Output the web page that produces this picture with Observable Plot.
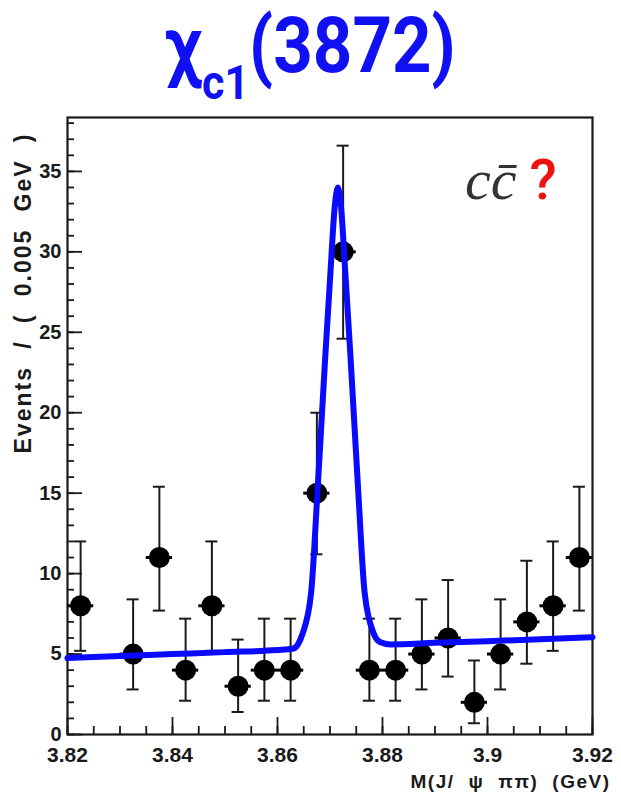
<!DOCTYPE html>
<html>
<head>
<meta charset="utf-8">
<script src="https://cdn.jsdelivr.net/npm/d3@7"></script>
<script src="https://cdn.jsdelivr.net/npm/@observablehq/plot@0.6"></script>
<style>
  html, body { margin: 0; padding: 0; background: #fff; }
  body { width: 621px; height: 799px; overflow: hidden; position: relative; }
  #title { position: relative; width: 621px; height: 105px; }
  #title .t {
    position: absolute; left: 0; top: 6px; width: 621px; text-align: center;
    font-family: Roboto, "Noto Sans", sans-serif; font-weight: 700; font-size: 69px;
    color: #1010f2; line-height: 1; white-space: nowrap;
    transform: scaleY(1.14); transform-origin: 50% 0;
  }
  #title .t .sub { font-size: 43px; position: relative; top: 24px; }
  #chart svg { display: block; }
</style>
</head>
<body>
<div id="title"><div class="t">χ<span class="sub">c1</span>(3872)</div></div>
<div id="chart"></div>
<script>
// ---- data ----
const binCenters = [3.8225, 3.8325, 3.8375, 3.8425, 3.8475, 3.8525, 3.8575, 3.8625, 3.8675, 3.8725,
                    3.8775, 3.8825, 3.8875, 3.8925, 3.8975, 3.9025, 3.9075, 3.9125, 3.9175];
const counts     = [8, 5, 11, 4, 8, 3, 4, 4, 15, 30, 4, 4, 5, 6, 2, 5, 7, 8, 11];
const errLow     = [5.2, 2.8, 7.7, 2.1, 5.2, 1.4, 2.1, 2.1, 11.2, 24.6, 2.1, 2.1, 2.8, 3.6, 0.7, 2.8, 4.4, 5.2, 7.7];
const errHigh    = [12.0, 8.4, 15.4, 7.2, 12.0, 5.9, 7.2, 7.2, 20.0, 36.6, 7.2, 7.2, 8.4, 9.6, 4.6, 8.4, 10.8, 12.0, 15.4];

const fitMass   = [3.82, 3.83, 3.84, 3.85, 3.86, 3.8629, 3.8638, 3.8647, 3.8664, 3.8676, 3.8691, 3.8701, 3.8709,
                   3.8715, 3.8721, 3.8729, 3.8739, 3.8754, 3.8766, 3.8783, 3.8795, 3.8815, 3.89, 3.90, 3.91, 3.92];
const fitEvents = [4.75, 4.88, 5.0, 5.12, 5.25, 5.33, 5.55, 6.2, 8.8, 15.0, 23.5, 28.8, 32.8,
                   34.0, 32.8, 28.8, 23.5, 15.0, 8.8, 6.3, 5.75, 5.6, 5.7, 5.8, 5.92, 6.05];

const xTicks = [3.82, 3.84, 3.86, 3.88, 3.9, 3.92];
const xTickLabels = ["3.82", "3.84", "3.86", "3.88", "3.9", "3.92"];
const yTicks = [0, 5, 10, 15, 20, 25, 30, 35];
const xLabel = "M(J/ ψ ππ) (GeV)";
const yLabel = "Events / ( 0.005 GeV )";
const noteText = "cc\u0304";
const noteMark = "?";

// ---- derived ----
const binWidth = 0.005;
const points = binCenters.map((x, i) => ({x, n: counts[i], lo: errLow[i], hi: errHigh[i]}));
const fit = fitMass.map((x, i) => ({x, y: fitEvents[i]}));
const xMinor = d3.range(0, 21).map(i => +(3.82 + i * binWidth).toFixed(4));
const yMinor = d3.range(0, 39);
const capHalf = 0.00115;
const ink = "#1a1a1a";

const chart = Plot.plot({
  width: 621,
  height: 694,
  marginTop: 12,
  marginBottom: 65,
  marginLeft: 67,
  marginRight: 29,
  style: {fontFamily: "'Liberation Sans', Arial, sans-serif", fontWeight: "bold", color: "#000", background: "#fff"},
  x: {domain: [3.82, 3.92]},
  y: {domain: [0, 38.35]},
  marks: [
    // minor ticks
    Plot.axisY({ticks: yMinor, tickSize: -7, tickFormat: () => "", label: null, strokeWidth: 1.8, stroke: ink}),
    Plot.axisX({ticks: xMinor, tickSize: -8, tickFormat: () => "", label: null, strokeWidth: 1.8, stroke: ink}),
    // major ticks + labels
    Plot.axisY({ticks: yTicks, tickSize: -15, tickPadding: 21, tickFormat: d => String(d), label: null,
                fontSize: 20, fontWeight: "bold", strokeWidth: 1.8, stroke: ink, fill: ink}),
    Plot.axisX({ticks: xTicks, tickSize: -17, tickPadding: 30, tickFormat: (d, i) => xTickLabels[i], label: null,
                fontSize: 21, fontWeight: "bold", strokeWidth: 1.8, stroke: ink, fill: ink}),
    Plot.frame({stroke: ink, strokeWidth: 2.2}),
    // error bars
    Plot.ruleX(points, {x: "x", y1: "lo", y2: "hi", stroke: ink, strokeWidth: 2}),
    Plot.ruleY(points, {y: "hi", x1: d => d.x - capHalf, x2: d => d.x + capHalf, stroke: ink, strokeWidth: 2}),
    Plot.ruleY(points, {y: "lo", x1: d => d.x - capHalf, x2: d => d.x + capHalf, stroke: ink, strokeWidth: 2}),
    Plot.ruleY(points, {y: "n", x1: d => d.x - binWidth / 2, x2: d => d.x + binWidth / 2, stroke: "#000", strokeWidth: 3}),
    Plot.dot(points, {x: "x", y: "n", r: 10.5, fill: "#000", stroke: "none"}),
    // fit curve
    Plot.line(fit, {x: "x", y: "y", stroke: "#0a0aff", strokeWidth: 6, curve: "monotone-x"}),
    // axis titles
    Plot.text([yLabel], {frameAnchor: "top-left", dx: -44, dy: 15, rotate: -90, textAnchor: "end",
                         lineAnchor: "middle", fontSize: 23, fontWeight: "bold", fill: ink}),
    Plot.text([xLabel], {frameAnchor: "bottom-right", dx: 18, dy: 47, textAnchor: "end",
                         lineAnchor: "middle", fontSize: 19, fontWeight: "bold", fill: ink}),
    // annotation
    Plot.text([noteText], {frameAnchor: "top-right", dx: -76, dy: 81, textAnchor: "end", lineAnchor: "bottom",
                           fontFamily: "'Liberation Serif', 'DejaVu Serif', serif", fontStyle: "italic",
                           fontWeight: "normal", fontSize: 58, fill: "#333"}),
    Plot.text([noteMark], {frameAnchor: "top-right", dx: -63, dy: 81, textAnchor: "start", lineAnchor: "bottom",
                           fontFamily: "Roboto, sans-serif", fontWeight: "500", fontSize: 56, fill: "#ee1111"})
  ]
});

document.getElementById("chart").appendChild(chart);

// stretch the axis titles to the reference's length: a little letter spacing, the rest as word spacing
function fitWords(el, target, letter) {
  el.style.letterSpacing = letter + "px";
  const natural = el.getComputedTextLength();
  const gaps = (el.textContent.match(/ /g) || []).length;
  if (gaps > 0 && natural < target) {
    el.style.wordSpacing = ((target - natural) / gaps) + "px";
    const now = el.getComputedTextLength();
    if (Math.abs(now - target) > 4) {
      el.style.wordSpacing = "";
      el.setAttribute("textLength", target);
      el.setAttribute("lengthAdjust", "spacing");
    }
  }
}
d3.select(chart).selectAll("text").each(function () {
  if (this.textContent === yLabel) fitWords(this, 321, 2);
  else if (this.textContent === xLabel) fitWords(this, 200, 1.5);
});
</script>
</body>
</html>
